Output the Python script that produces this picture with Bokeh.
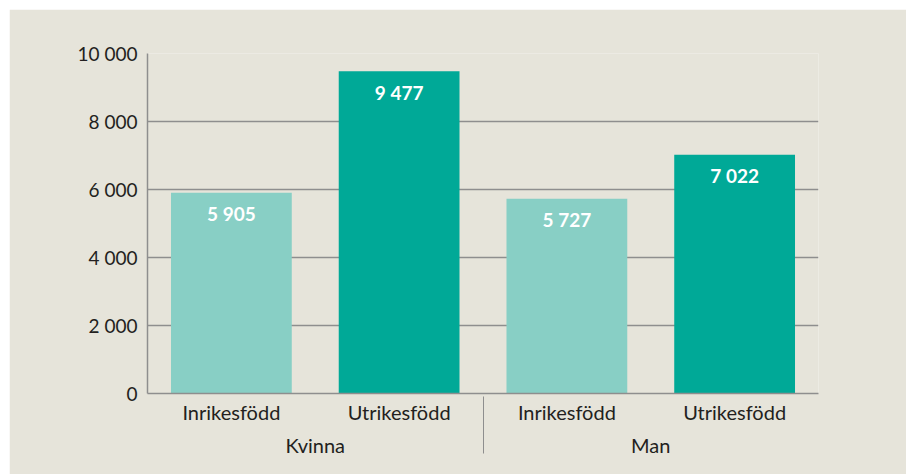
from bokeh.plotting import figure
from bokeh.models import FactorRange, ColumnDataSource, FixedTicker, LabelSet, Range1d
from bokeh.core.properties import value
from bokeh.embed import file_html
from bokeh.resources import INLINE

groups = ["Kvinna", "Man"]
births = ["Inrikesfödd", "Utrikesfödd"]
values = [5905, 9477, 5727, 7022]
birth_colors = {"Inrikesfödd": "#88cfc5", "Utrikesfödd": "#00a997"}
y_ticks = [0, 2000, 4000, 6000, 8000, 10000]
y_tick_labels = ["0", "2 000", "4 000", "6 000", "8 000", "10 000"]

BG = "#e6e4da"
LINE = "#8e8e8e"
TEXT = "#231f20"
FONT = "Lato"

factors = [(g, b) for g in groups for b in births]
source = ColumnDataSource(dict(
    x=factors,
    value=values,
    color=[birth_colors[b] for _, b in factors],
    label=[f"{v:,}".replace(",", " ") for v in values],
))

p = figure(
    x_range=FactorRange(*factors, factor_padding=0, group_padding=0, range_padding=0),
    y_range=Range1d(0, 10000),
    width=897, height=465, margin=(9, 0, 0, 9),
    output_backend="svg", toolbar_location=None,
    min_border_left=138, min_border_right=88, min_border_top=44, min_border_bottom=81,
    background_fill_color=BG, border_fill_color=BG, outline_line_color=None,
)

p.vbar(x="x", top="value", width=0.72, source=source, fill_color="color", line_color=None)

labels = LabelSet(x="x", y="value", text="label", source=source, y_offset=-21,
                  text_align="center", text_baseline="middle", text_color="white",
                  text_font_size="19px", text_font_style="bold", text_font=value(FONT))
p.add_layout(labels)

p.xgrid.grid_line_color = None
p.ygrid.ticker = FixedTicker(ticks=y_ticks[1:])
p.ygrid.grid_line_color = LINE
p.ygrid.grid_line_width = 1.5

p.yaxis.ticker = FixedTicker(ticks=y_ticks)
p.yaxis.major_label_overrides = dict(zip(y_ticks, y_tick_labels))
p.yaxis.axis_line_color = LINE
p.yaxis.axis_line_width = 1.5
p.yaxis.major_tick_line_color = None
p.yaxis.minor_tick_line_color = None
p.yaxis.major_tick_out = 0
p.yaxis.major_tick_in = 0
p.yaxis.major_label_standoff = 10
p.yaxis.major_label_text_font_size = "19px"
p.yaxis.major_label_text_color = TEXT
p.yaxis.major_label_text_font = FONT

p.xaxis.axis_line_color = LINE
p.xaxis.axis_line_width = 1.5
p.xaxis.major_tick_line_color = None
p.xaxis.minor_tick_line_color = None
p.xaxis.major_tick_out = 0
p.xaxis.major_tick_in = 0
p.xaxis.major_label_standoff = 6
p.xaxis.major_label_text_font_size = "20px"
p.xaxis.major_label_text_color = TEXT
p.xaxis.major_label_text_font = FONT
p.xaxis.group_text_font_size = "20px"
p.xaxis.group_text_font_style = "normal"
p.xaxis.group_text_color = TEXT
p.xaxis.group_text_font = FONT
p.xaxis.separator_line_color = LINE
p.xaxis.separator_line_width = 1

open("out.html", "w").write(file_html(p, INLINE))
